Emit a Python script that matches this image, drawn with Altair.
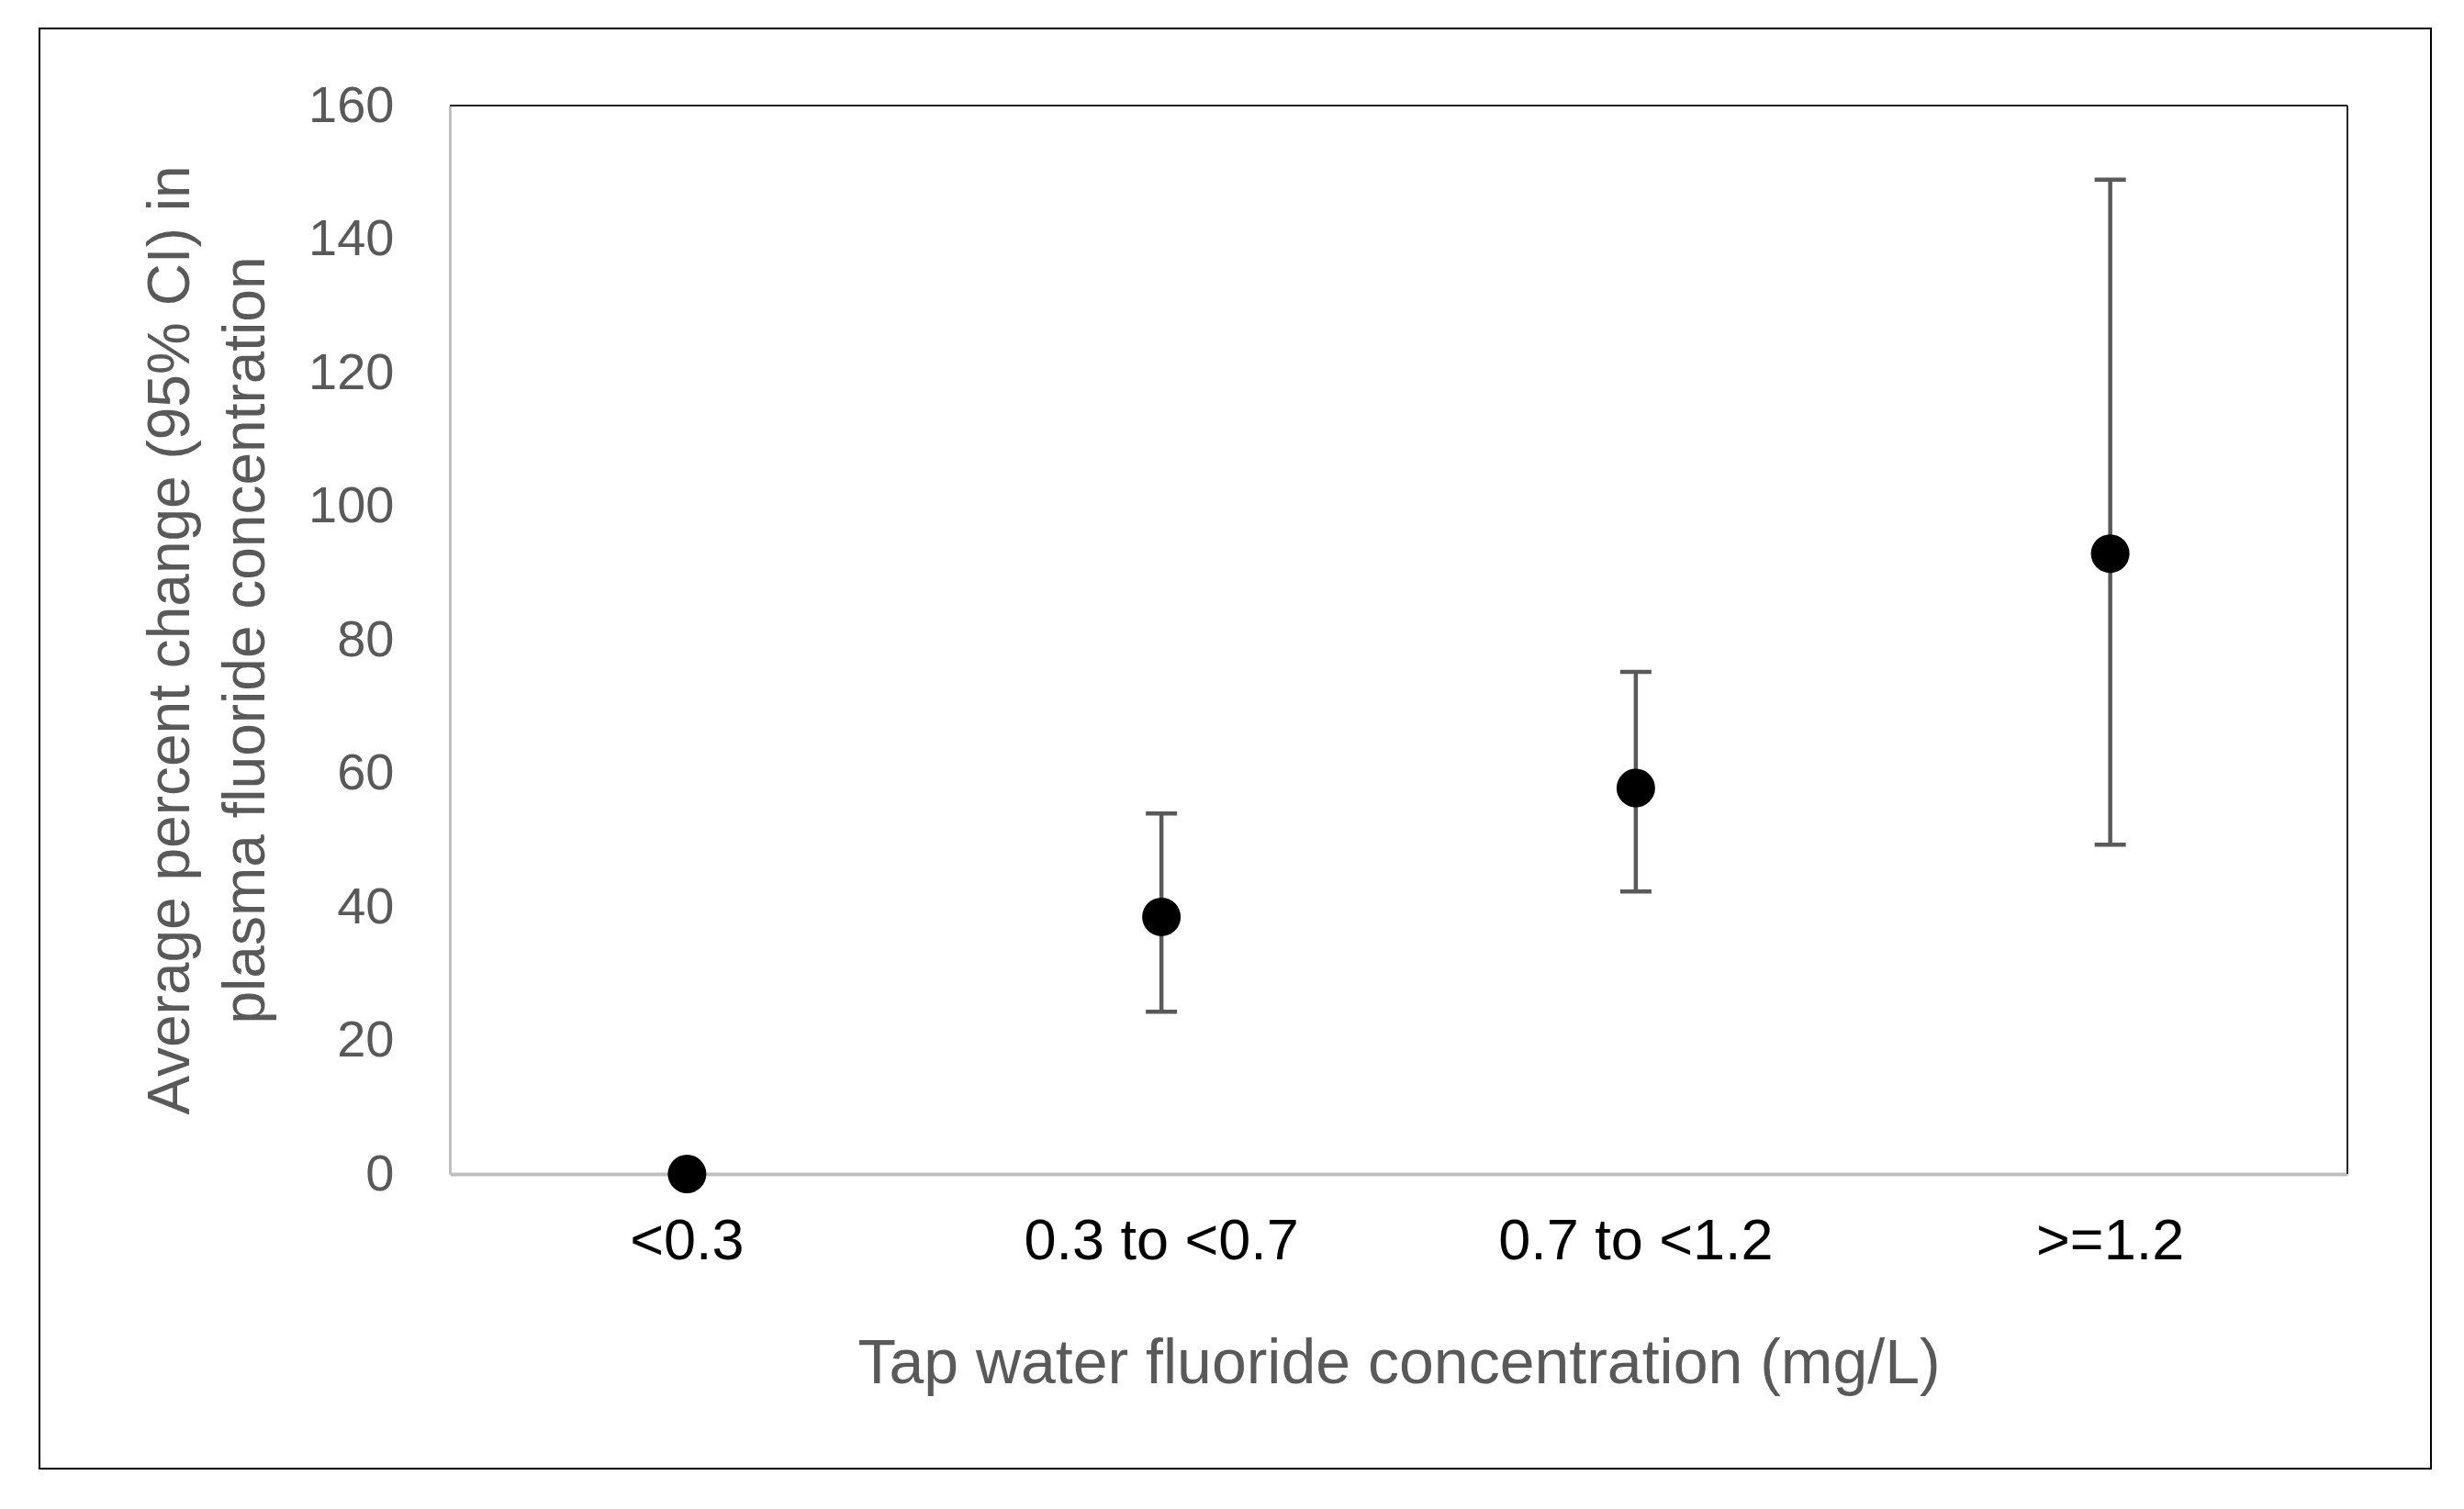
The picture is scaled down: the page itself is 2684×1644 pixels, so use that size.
import altair as alt
import pandas as pd

categories = ["<0.3", "0.3 to <0.7", "0.7 to <1.2", ">=1.2"]
estimates = [0.0, 38.5, 57.8, 92.9]
ci_lower = [None, 24.3, 42.3, 49.3]
ci_upper = [None, 54.0, 75.2, 148.9]

y_ticks = [0, 20, 40, 60, 80, 100, 120, 140, 160]

W, H = 2067, 1164
FONT = "Liberation Sans"
GRAY_TXT = "#595959"
AXIS_GRAY = "#BFBFBF"

df = pd.DataFrame({"cat": categories, "est": estimates, "lo": ci_lower, "hi": ci_upper})
ci_df = df.dropna(subset=["lo", "hi"])

x_enc = alt.X(
    "cat:N",
    sort=categories,
    axis=alt.Axis(
        title="Tap water fluoride concentration (mg/L)",
        labelAngle=0,
        labelLimit=0,
        ticks=False,
        domainColor=AXIS_GRAY,
        domainWidth=4,
        labelFont=FONT,
        labelFontSize=63,
        labelColor="#000000",
        labelPadding=42,
        titleFont=FONT,
        titleFontSize=68,
        titleFontWeight="normal",
        titleColor=GRAY_TXT,
        titlePadding=68,
    ),
)

y_scale = alt.Scale(domain=[0, 160], nice=False, zero=True)
y_axis = alt.Axis(
    title=["Average percent change (95% CI) in", "plasma fluoride concentration"],
    values=y_ticks,
    grid=False,
    ticks=False,
    domainColor=AXIS_GRAY,
    domainWidth=3,
    labelFont=FONT,
    labelFontSize=56,
    labelColor=GRAY_TXT,
    labelPadding=61,
    titleFont=FONT,
    titleFontSize=64,
    titleFontWeight="normal",
    titleColor=GRAY_TXT,
    titleLineHeight=82,
    titlePadding=35,
)

base_ci = alt.Chart(ci_df)

bars = base_ci.mark_rule(color=GRAY_TXT, strokeWidth=4.5).encode(
    x=x_enc,
    y=alt.Y("lo:Q", scale=y_scale, axis=y_axis),
    y2="hi:Q",
)
cap_lo = base_ci.mark_tick(color=GRAY_TXT, size=34, thickness=4.5, opacity=1).encode(
    x=alt.X("cat:N", sort=categories), y=alt.Y("lo:Q", scale=y_scale)
)
cap_hi = base_ci.mark_tick(color=GRAY_TXT, size=34, thickness=4.5, opacity=1).encode(
    x=alt.X("cat:N", sort=categories), y=alt.Y("hi:Q", scale=y_scale)
)
points = alt.Chart(df).mark_circle(color="#000000", size=1764, opacity=1).encode(
    x=alt.X("cat:N", sort=categories), y=alt.Y("est:Q", scale=y_scale)
)

one = pd.DataFrame({"a": [0]})
top_line = alt.Chart(one).mark_rule(color="#262626", strokeWidth=2).encode(
    x=alt.value(0), x2=alt.value(W), y=alt.value(0)
)
right_line = alt.Chart(one).mark_rule(color="#262626", strokeWidth=2).encode(
    x=alt.value(W), y=alt.value(0), y2=alt.value(H)
)
frame = alt.Chart(one).mark_rect(
    fill="transparent", stroke="#000000", strokeWidth=2, clip=False
).encode(
    x=alt.value(-447), x2=alt.value(2158), y=alt.value(-84), y2=alt.value(1485)
)

chart = (
    alt.layer(frame, top_line, right_line, bars, cap_lo, cap_hi, points)
    .properties(
        width=W,
        height=H,
        autosize=alt.AutoSizeParams(type="none"),
        padding={"left": 482, "top": 107, "right": 100, "bottom": 340},
        background="white",
    )
    .configure_view(stroke=None)
)

chart.save("out.html", embed_options={"renderer": "svg", "actions": False})
